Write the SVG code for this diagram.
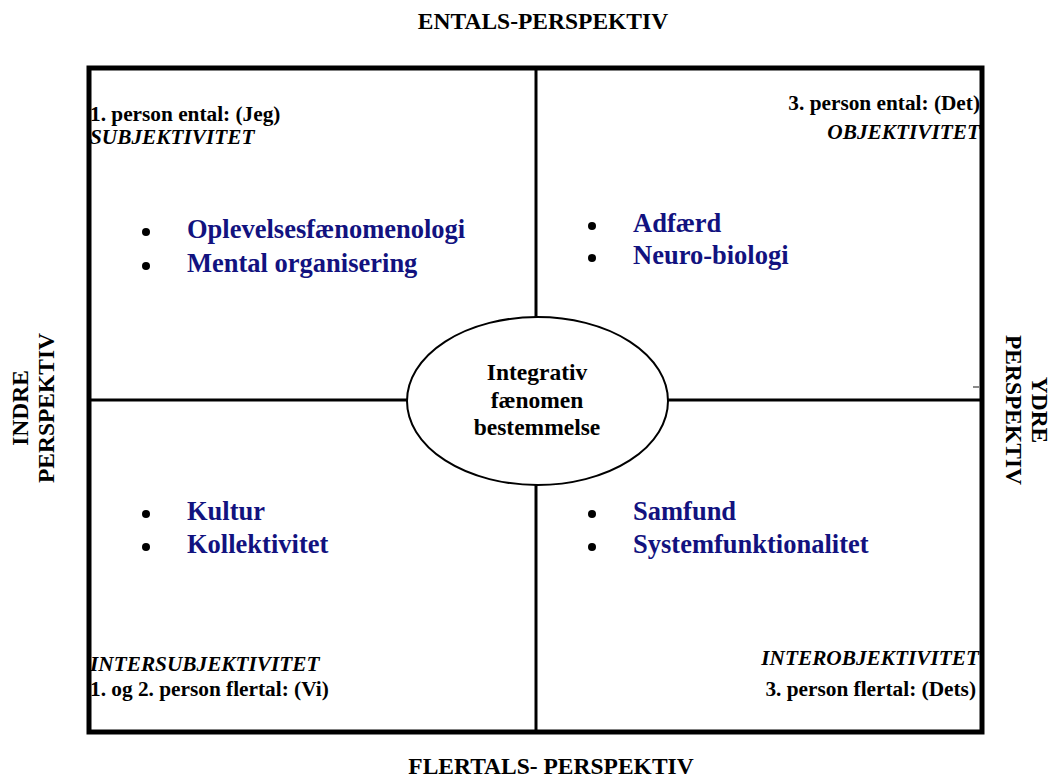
<svg xmlns="http://www.w3.org/2000/svg" width="1054" height="778" viewBox="0 0 1054 778">
<style>
.t{font-family:"Liberation Serif","Times New Roman",serif;font-weight:bold;fill:#000}
.lab{font-size:21.3px}
.ttl{font-size:23.5px}
.it{font-style:italic}
.bul{font-size:26.5px;fill:#12127f}
.ln{stroke:#000;stroke-width:3;fill:none}
.dot{fill:#000}
</style>
<rect width="1054" height="778" fill="#fff"/>
<g id="frame">
<rect x="89" y="68" width="893" height="664" fill="none" stroke="#000" stroke-width="5"/>
</g>
<g id="connectors">
<line class="ln" x1="536" y1="68" x2="536" y2="317"/>
<line class="ln" x1="536" y1="484" x2="536" y2="732"/>
<line class="ln" x1="89" y1="400" x2="407" y2="400"/>
<line class="ln" x1="668" y1="400" x2="982" y2="400"/>
<rect x="973" y="386" width="6" height="2" fill="#8a8a8a"/>
</g>
<g id="titles">
<text class="t ttl" x="543" y="29" text-anchor="middle">ENTALS-PERSPEKTIV</text>
<text class="t ttl" x="551" y="774" text-anchor="middle">FLERTALS- PERSPEKTIV</text>
<g transform="translate(28,408) rotate(-90)"><text class="t ttl" x="0" y="0" text-anchor="middle">INDRE</text></g>
<g transform="translate(54,408) rotate(-90)"><text class="t ttl" x="0" y="0" text-anchor="middle">PERSPEKTIV</text></g>
<g transform="translate(1032,410) rotate(90)"><text class="t ttl" x="0" y="0" text-anchor="middle">YDRE</text></g>
<g transform="translate(1006,410) rotate(90)"><text class="t ttl" x="0" y="0" text-anchor="middle">PERSPEKTIV</text></g>
</g>
<g id="center-node">
<ellipse cx="537.5" cy="401" rx="130.5" ry="84" fill="#fff" stroke="#000" stroke-width="2"/>
<text class="t ttl" x="537" y="380" text-anchor="middle">Integrativ</text>
<text class="t ttl" x="537" y="408" text-anchor="middle">fænomen</text>
<text class="t ttl" x="537" y="435" text-anchor="middle">bestemmelse</text>
</g>
<g id="q-top-left">
<text class="t lab" x="90" y="121">1. person ental: (Jeg)</text>
<text class="t lab it" x="90" y="144">SUBJEKTIVITET</text>
<circle class="dot" cx="146" cy="232" r="4"/>
<text class="t bul" x="187" y="238">Oplevelsesfænomenologi</text>
<circle class="dot" cx="146" cy="266" r="4"/>
<text class="t bul" x="187" y="272">Mental organisering</text>
</g>
<g id="q-top-right">
<text class="t lab" x="980" y="110" text-anchor="end">3. person ental: (Det)</text>
<text class="t lab it" x="980" y="139" text-anchor="end">OBJEKTIVITET</text>
<circle class="dot" cx="592" cy="226" r="4"/>
<text class="t bul" x="633" y="232">Adfærd</text>
<circle class="dot" cx="592" cy="258" r="4"/>
<text class="t bul" x="633" y="264">Neuro-biologi</text>
</g>
<g id="q-bottom-left">
<circle class="dot" cx="146" cy="514" r="4"/>
<text class="t bul" x="187" y="520">Kultur</text>
<circle class="dot" cx="146" cy="547" r="4"/>
<text class="t bul" x="187" y="553">Kollektivitet</text>
<text class="t lab it" x="90" y="671">INTERSUBJEKTIVITET</text>
<text class="t lab" x="90" y="696">1. og 2. person flertal: (Vi)</text>
</g>
<g id="q-bottom-right">
<circle class="dot" cx="592" cy="514" r="4"/>
<text class="t bul" x="633" y="520">Samfund</text>
<circle class="dot" cx="592" cy="547" r="4"/>
<text class="t bul" x="633" y="553">Systemfunktionalitet</text>
<text class="t lab it" x="979" y="665" text-anchor="end">INTEROBJEKTIVITET</text>
<text class="t lab" x="976" y="696" text-anchor="end">3. person flertal: (Dets)</text>
</g>
</svg>
